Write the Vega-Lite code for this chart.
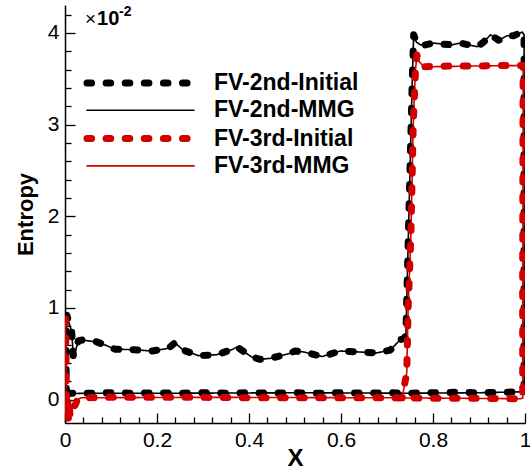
{
  "$schema": "https://vega.github.io/schema/vega-lite/v6.json",
  "autosize": "none",
  "width": 460,
  "height": 418,
  "padding": {"left": 65, "top": 5, "right": 5, "bottom": 49},
  "background": "white",
  "config": {
    "view": {"stroke": null},
    "font": "Liberation Sans",
    "axis": {
      "grid": false,
      "domainColor": "black",
      "domainWidth": 1.5,
      "tickColor": "black",
      "tickWidth": 1.3,
      "labelColor": "black",
      "labelFont": "Liberation Sans",
      "labelFontSize": 21,
      "titleFont": "Liberation Sans",
      "titleFontWeight": "bold",
      "titleColor": "black"
    }
  },
  "datasets": {
    "curves": [
      {"s": "FV-2nd-Initial", "x": 0.003, "y": 0.07},
      {"s": "FV-2nd-Initial", "x": 0.002, "y": 0.5},
      {"s": "FV-2nd-Initial", "x": 0.004, "y": 0.92},
      {"s": "FV-2nd-Initial", "x": 0.0145, "y": 0.74},
      {"s": "FV-2nd-Initial", "x": 0.018, "y": 0.48},
      {"s": "FV-2nd-Initial", "x": 0.022, "y": 0.52},
      {"s": "FV-2nd-Initial", "x": 0.029, "y": 0.64},
      {"s": "FV-2nd-Initial", "x": 0.036, "y": 0.65},
      {"s": "FV-2nd-Initial", "x": 0.069, "y": 0.63},
      {"s": "FV-2nd-Initial", "x": 0.09, "y": 0.59},
      {"s": "FV-2nd-Initial", "x": 0.109, "y": 0.55},
      {"s": "FV-2nd-Initial", "x": 0.149, "y": 0.545},
      {"s": "FV-2nd-Initial", "x": 0.189, "y": 0.53},
      {"s": "FV-2nd-Initial", "x": 0.225, "y": 0.56},
      {"s": "FV-2nd-Initial", "x": 0.239, "y": 0.62},
      {"s": "FV-2nd-Initial", "x": 0.257, "y": 0.54},
      {"s": "FV-2nd-Initial", "x": 0.29, "y": 0.48},
      {"s": "FV-2nd-Initial", "x": 0.33, "y": 0.49},
      {"s": "FV-2nd-Initial", "x": 0.365, "y": 0.55},
      {"s": "FV-2nd-Initial", "x": 0.374, "y": 0.575},
      {"s": "FV-2nd-Initial", "x": 0.406, "y": 0.465},
      {"s": "FV-2nd-Initial", "x": 0.424, "y": 0.44},
      {"s": "FV-2nd-Initial", "x": 0.446, "y": 0.45},
      {"s": "FV-2nd-Initial", "x": 0.486, "y": 0.5},
      {"s": "FV-2nd-Initial", "x": 0.5, "y": 0.53},
      {"s": "FV-2nd-Initial", "x": 0.519, "y": 0.52},
      {"s": "FV-2nd-Initial", "x": 0.559, "y": 0.47},
      {"s": "FV-2nd-Initial", "x": 0.598, "y": 0.53},
      {"s": "FV-2nd-Initial", "x": 0.638, "y": 0.52},
      {"s": "FV-2nd-Initial", "x": 0.678, "y": 0.51},
      {"s": "FV-2nd-Initial", "x": 0.707, "y": 0.54},
      {"s": "FV-2nd-Initial", "x": 0.729, "y": 0.655},
      {"s": "FV-2nd-Initial", "x": 0.736, "y": 0.665},
      {"s": "FV-2nd-Initial", "x": 0.741, "y": 0.7},
      {"s": "FV-2nd-Initial", "x": 0.745, "y": 1.5},
      {"s": "FV-2nd-Initial", "x": 0.75, "y": 2.5},
      {"s": "FV-2nd-Initial", "x": 0.755, "y": 3.5},
      {"s": "FV-2nd-Initial", "x": 0.758, "y": 3.98},
      {"s": "FV-2nd-Initial", "x": 0.764, "y": 3.9},
      {"s": "FV-2nd-Initial", "x": 0.773, "y": 3.87},
      {"s": "FV-2nd-Initial", "x": 0.783, "y": 3.87},
      {"s": "FV-2nd-Initial", "x": 0.8, "y": 3.89},
      {"s": "FV-2nd-Initial", "x": 0.82, "y": 3.88},
      {"s": "FV-2nd-Initial", "x": 0.84, "y": 3.87},
      {"s": "FV-2nd-Initial", "x": 0.86, "y": 3.89},
      {"s": "FV-2nd-Initial", "x": 0.878, "y": 3.87},
      {"s": "FV-2nd-Initial", "x": 0.896, "y": 3.85},
      {"s": "FV-2nd-Initial", "x": 0.91, "y": 3.9},
      {"s": "FV-2nd-Initial", "x": 0.925, "y": 3.98},
      {"s": "FV-2nd-Initial", "x": 0.943, "y": 3.92},
      {"s": "FV-2nd-Initial", "x": 0.961, "y": 3.97},
      {"s": "FV-2nd-Initial", "x": 0.975, "y": 3.97},
      {"s": "FV-2nd-Initial", "x": 0.994, "y": 4.01},
      {"s": "FV-2nd-Initial", "x": 0.998, "y": 3.98},
      {"s": "FV-2nd-Initial", "x": 0.998, "y": 2.0},
      {"s": "FV-2nd-Initial", "x": 0.998, "y": 0.1},
      {"s": "FV-2nd-Initial", "x": 0.99, "y": 0.085},
      {"s": "FV-2nd-Initial", "x": 0.95, "y": 0.08},
      {"s": "FV-2nd-Initial", "x": 0.9, "y": 0.075},
      {"s": "FV-2nd-Initial", "x": 0.85, "y": 0.08},
      {"s": "FV-2nd-Initial", "x": 0.8, "y": 0.075},
      {"s": "FV-2nd-Initial", "x": 0.75, "y": 0.07},
      {"s": "FV-2nd-Initial", "x": 0.7, "y": 0.075},
      {"s": "FV-2nd-Initial", "x": 0.65, "y": 0.07},
      {"s": "FV-2nd-Initial", "x": 0.6, "y": 0.075},
      {"s": "FV-2nd-Initial", "x": 0.55, "y": 0.07},
      {"s": "FV-2nd-Initial", "x": 0.5, "y": 0.075},
      {"s": "FV-2nd-Initial", "x": 0.45, "y": 0.07},
      {"s": "FV-2nd-Initial", "x": 0.4, "y": 0.075},
      {"s": "FV-2nd-Initial", "x": 0.35, "y": 0.07},
      {"s": "FV-2nd-Initial", "x": 0.3, "y": 0.075},
      {"s": "FV-2nd-Initial", "x": 0.25, "y": 0.07},
      {"s": "FV-2nd-Initial", "x": 0.2, "y": 0.075},
      {"s": "FV-2nd-Initial", "x": 0.15, "y": 0.07},
      {"s": "FV-2nd-Initial", "x": 0.1, "y": 0.075},
      {"s": "FV-2nd-Initial", "x": 0.05, "y": 0.07},
      {"s": "FV-2nd-Initial", "x": 0.02, "y": 0.07},
      {"s": "FV-2nd-Initial", "x": 0.005, "y": 0.065},

      {"s": "FV-2nd-MMG", "x": 0.003, "y": 0.07},
      {"s": "FV-2nd-MMG", "x": 0.002, "y": 0.5},
      {"s": "FV-2nd-MMG", "x": 0.004, "y": 0.92},
      {"s": "FV-2nd-MMG", "x": 0.0145, "y": 0.74},
      {"s": "FV-2nd-MMG", "x": 0.018, "y": 0.48},
      {"s": "FV-2nd-MMG", "x": 0.022, "y": 0.52},
      {"s": "FV-2nd-MMG", "x": 0.029, "y": 0.64},
      {"s": "FV-2nd-MMG", "x": 0.036, "y": 0.65},
      {"s": "FV-2nd-MMG", "x": 0.069, "y": 0.63},
      {"s": "FV-2nd-MMG", "x": 0.09, "y": 0.59},
      {"s": "FV-2nd-MMG", "x": 0.109, "y": 0.55},
      {"s": "FV-2nd-MMG", "x": 0.149, "y": 0.545},
      {"s": "FV-2nd-MMG", "x": 0.189, "y": 0.53},
      {"s": "FV-2nd-MMG", "x": 0.225, "y": 0.56},
      {"s": "FV-2nd-MMG", "x": 0.239, "y": 0.62},
      {"s": "FV-2nd-MMG", "x": 0.257, "y": 0.54},
      {"s": "FV-2nd-MMG", "x": 0.29, "y": 0.48},
      {"s": "FV-2nd-MMG", "x": 0.33, "y": 0.49},
      {"s": "FV-2nd-MMG", "x": 0.365, "y": 0.55},
      {"s": "FV-2nd-MMG", "x": 0.374, "y": 0.575},
      {"s": "FV-2nd-MMG", "x": 0.406, "y": 0.465},
      {"s": "FV-2nd-MMG", "x": 0.424, "y": 0.44},
      {"s": "FV-2nd-MMG", "x": 0.446, "y": 0.45},
      {"s": "FV-2nd-MMG", "x": 0.486, "y": 0.5},
      {"s": "FV-2nd-MMG", "x": 0.5, "y": 0.53},
      {"s": "FV-2nd-MMG", "x": 0.519, "y": 0.52},
      {"s": "FV-2nd-MMG", "x": 0.559, "y": 0.47},
      {"s": "FV-2nd-MMG", "x": 0.598, "y": 0.53},
      {"s": "FV-2nd-MMG", "x": 0.638, "y": 0.52},
      {"s": "FV-2nd-MMG", "x": 0.678, "y": 0.51},
      {"s": "FV-2nd-MMG", "x": 0.707, "y": 0.54},
      {"s": "FV-2nd-MMG", "x": 0.729, "y": 0.655},
      {"s": "FV-2nd-MMG", "x": 0.736, "y": 0.665},
      {"s": "FV-2nd-MMG", "x": 0.741, "y": 0.7},
      {"s": "FV-2nd-MMG", "x": 0.745, "y": 1.5},
      {"s": "FV-2nd-MMG", "x": 0.75, "y": 2.5},
      {"s": "FV-2nd-MMG", "x": 0.755, "y": 3.5},
      {"s": "FV-2nd-MMG", "x": 0.758, "y": 3.98},
      {"s": "FV-2nd-MMG", "x": 0.764, "y": 3.9},
      {"s": "FV-2nd-MMG", "x": 0.773, "y": 3.87},
      {"s": "FV-2nd-MMG", "x": 0.783, "y": 3.87},
      {"s": "FV-2nd-MMG", "x": 0.8, "y": 3.89},
      {"s": "FV-2nd-MMG", "x": 0.82, "y": 3.88},
      {"s": "FV-2nd-MMG", "x": 0.84, "y": 3.87},
      {"s": "FV-2nd-MMG", "x": 0.86, "y": 3.89},
      {"s": "FV-2nd-MMG", "x": 0.878, "y": 3.87},
      {"s": "FV-2nd-MMG", "x": 0.896, "y": 3.85},
      {"s": "FV-2nd-MMG", "x": 0.91, "y": 3.9},
      {"s": "FV-2nd-MMG", "x": 0.925, "y": 3.98},
      {"s": "FV-2nd-MMG", "x": 0.943, "y": 3.92},
      {"s": "FV-2nd-MMG", "x": 0.961, "y": 3.97},
      {"s": "FV-2nd-MMG", "x": 0.975, "y": 3.97},
      {"s": "FV-2nd-MMG", "x": 0.994, "y": 4.01},
      {"s": "FV-2nd-MMG", "x": 0.998, "y": 3.98},
      {"s": "FV-2nd-MMG", "x": 0.998, "y": 2.0},
      {"s": "FV-2nd-MMG", "x": 0.998, "y": 0.1},
      {"s": "FV-2nd-MMG", "x": 0.99, "y": 0.085},
      {"s": "FV-2nd-MMG", "x": 0.9, "y": 0.075},
      {"s": "FV-2nd-MMG", "x": 0.75, "y": 0.07},
      {"s": "FV-2nd-MMG", "x": 0.5, "y": 0.075},
      {"s": "FV-2nd-MMG", "x": 0.25, "y": 0.07},
      {"s": "FV-2nd-MMG", "x": 0.05, "y": 0.07},
      {"s": "FV-2nd-MMG", "x": 0.005, "y": 0.065},

      {"s": "FV-3rd-Initial", "x": 0.001, "y": 0.88},
      {"s": "FV-3rd-Initial", "x": 0.002, "y": 0.5},
      {"s": "FV-3rd-Initial", "x": 0.003, "y": 0.1},
      {"s": "FV-3rd-Initial", "x": 0.004, "y": -0.15},
      {"s": "FV-3rd-Initial", "x": 0.006, "y": 0.02},
      {"s": "FV-3rd-Initial", "x": 0.007, "y": -0.22},
      {"s": "FV-3rd-Initial", "x": 0.009, "y": -0.05},
      {"s": "FV-3rd-Initial", "x": 0.011, "y": -0.18},
      {"s": "FV-3rd-Initial", "x": 0.014, "y": -0.1},
      {"s": "FV-3rd-Initial", "x": 0.018, "y": -0.09},
      {"s": "FV-3rd-Initial", "x": 0.022, "y": -0.06},
      {"s": "FV-3rd-Initial", "x": 0.027, "y": 0.0},
      {"s": "FV-3rd-Initial", "x": 0.035, "y": 0.02},
      {"s": "FV-3rd-Initial", "x": 0.1, "y": 0.025},
      {"s": "FV-3rd-Initial", "x": 0.2, "y": 0.025},
      {"s": "FV-3rd-Initial", "x": 0.3, "y": 0.025},
      {"s": "FV-3rd-Initial", "x": 0.4, "y": 0.02},
      {"s": "FV-3rd-Initial", "x": 0.5, "y": 0.02},
      {"s": "FV-3rd-Initial", "x": 0.6, "y": 0.02},
      {"s": "FV-3rd-Initial", "x": 0.7, "y": 0.02},
      {"s": "FV-3rd-Initial", "x": 0.8, "y": 0.015},
      {"s": "FV-3rd-Initial", "x": 0.9, "y": 0.015},
      {"s": "FV-3rd-Initial", "x": 0.99, "y": 0.01},
      {"s": "FV-3rd-Initial", "x": 0.995, "y": 0.015},
      {"s": "FV-3rd-Initial", "x": 0.995, "y": 1.5},
      {"s": "FV-3rd-Initial", "x": 0.996, "y": 3.645},
      {"s": "FV-3rd-Initial", "x": 0.95, "y": 3.645},
      {"s": "FV-3rd-Initial", "x": 0.9, "y": 3.64},
      {"s": "FV-3rd-Initial", "x": 0.85, "y": 3.64},
      {"s": "FV-3rd-Initial", "x": 0.8, "y": 3.635},
      {"s": "FV-3rd-Initial", "x": 0.78, "y": 3.63},
      {"s": "FV-3rd-Initial", "x": 0.768, "y": 3.7},
      {"s": "FV-3rd-Initial", "x": 0.765, "y": 3.76},
      {"s": "FV-3rd-Initial", "x": 0.762, "y": 3.6},
      {"s": "FV-3rd-Initial", "x": 0.757, "y": 3.0},
      {"s": "FV-3rd-Initial", "x": 0.752, "y": 1.8},
      {"s": "FV-3rd-Initial", "x": 0.746, "y": 1.0},
      {"s": "FV-3rd-Initial", "x": 0.743, "y": 0.3},
      {"s": "FV-3rd-Initial", "x": 0.733, "y": 0.02},

      {"s": "FV-3rd-MMG", "x": 0.001, "y": 0.88},
      {"s": "FV-3rd-MMG", "x": 0.002, "y": 0.5},
      {"s": "FV-3rd-MMG", "x": 0.003, "y": 0.1},
      {"s": "FV-3rd-MMG", "x": 0.004, "y": -0.15},
      {"s": "FV-3rd-MMG", "x": 0.006, "y": 0.02},
      {"s": "FV-3rd-MMG", "x": 0.007, "y": -0.22},
      {"s": "FV-3rd-MMG", "x": 0.009, "y": -0.05},
      {"s": "FV-3rd-MMG", "x": 0.011, "y": -0.18},
      {"s": "FV-3rd-MMG", "x": 0.014, "y": -0.1},
      {"s": "FV-3rd-MMG", "x": 0.018, "y": -0.09},
      {"s": "FV-3rd-MMG", "x": 0.022, "y": -0.06},
      {"s": "FV-3rd-MMG", "x": 0.027, "y": 0.0},
      {"s": "FV-3rd-MMG", "x": 0.035, "y": 0.02},
      {"s": "FV-3rd-MMG", "x": 0.3, "y": 0.025},
      {"s": "FV-3rd-MMG", "x": 0.7, "y": 0.02},
      {"s": "FV-3rd-MMG", "x": 0.99, "y": 0.01},
      {"s": "FV-3rd-MMG", "x": 0.995, "y": 0.015},
      {"s": "FV-3rd-MMG", "x": 0.996, "y": 3.645},
      {"s": "FV-3rd-MMG", "x": 0.9, "y": 3.64},
      {"s": "FV-3rd-MMG", "x": 0.78, "y": 3.63},
      {"s": "FV-3rd-MMG", "x": 0.768, "y": 3.7},
      {"s": "FV-3rd-MMG", "x": 0.765, "y": 3.76},
      {"s": "FV-3rd-MMG", "x": 0.762, "y": 3.6},
      {"s": "FV-3rd-MMG", "x": 0.757, "y": 3.0},
      {"s": "FV-3rd-MMG", "x": 0.752, "y": 1.8},
      {"s": "FV-3rd-MMG", "x": 0.746, "y": 1.0},
      {"s": "FV-3rd-MMG", "x": 0.743, "y": 0.3},
      {"s": "FV-3rd-MMG", "x": 0.733, "y": 0.02}
    ]
  },
  "layer": [
    {
      "data": {"name": "curves"},
      "mark": {"type": "line", "strokeCap": "round", "strokeJoin": "round", "clip": true},
      "encoding": {
        "x": {
          "field": "x", "type": "quantitative",
          "scale": {"domain": [0, 1], "nice": false, "zero": false},
          "axis": {
            "title": "X",
            "titleFontSize": 24,
            "values": [0, 0.04, 0.08, 0.12, 0.16, 0.2, 0.24, 0.28, 0.32, 0.36, 0.4, 0.44, 0.48, 0.52, 0.56, 0.6, 0.64, 0.68, 0.72, 0.76, 0.8, 0.84, 0.88, 0.92, 0.96, 1],
            "tickCount": 200,
            "format": "~g",
            "labelExpr": "abs(datum.value*5 - round(datum.value*5)) < 1e-6 ? datum.label : ''",
            "tickSize": {"condition": {"test": "abs(datum.value*5 - round(datum.value*5)) < 1e-6", "value": -10}, "value": -6},
            "labelPadding": 16,
            "labelFlush": false,
            "labelOverlap": false,
            "titleX": 230,
            "titleY": 42,
            "titleBaseline": "alphabetic",
            "titleAlign": "center"
          }
        },
        "y": {
          "field": "y", "type": "quantitative",
          "scale": {"domain": [-0.255, 4.305], "nice": false, "zero": false},
          "axis": {
            "title": "Entropy",
            "titleFontSize": 22,
            "values": [-0.2, 0, 0.2, 0.4, 0.6, 0.8, 1, 1.2, 1.4, 1.6, 1.8, 2, 2.2, 2.4, 2.6, 2.8, 3, 3.2, 3.4, 3.6, 3.8, 4, 4.2],
            "tickCount": 200,
            "format": "~g",
            "labelExpr": "abs(datum.value - round(datum.value)) < 1e-6 ? datum.label : ''",
            "tickSize": {"condition": {"test": "abs(datum.value - round(datum.value)) < 1e-6", "value": -10}, "value": -6},
            "labelPadding": 16,
            "labelFlush": false,
            "labelOverlap": false,
            "titleAngle": 270,
            "titleX": -33,
            "titleY": 209,
            "titleAlign": "center",
            "titleBaseline": "alphabetic"
          }
        },
        "color": {
          "field": "s", "type": "nominal",
          "scale": {"domain": ["FV-2nd-Initial", "FV-2nd-MMG", "FV-3rd-Initial", "FV-3rd-MMG"], "range": ["#000000", "#000000", "#d40000", "#d40000"]},
          "legend": {
            "title": null,
            "orient": "none",
            "legendX": 64,
            "legendY": 66.5,
            "symbolType": "M-10,0H10",
            "symbolSize": 114.5,
            "labelFont": "Liberation Sans",
            "labelFontWeight": "bold",
            "labelFontSize": 23,
            "labelColor": "black",
            "labelOffset": 62,
            "rowPadding": 1.3,
            "padding": 0,
            "encode": {"symbols": {"update": {"strokeCap": {"value": "round"}}}}
          }
        },
        "strokeDash": {
          "field": "s", "type": "nominal",
          "scale": {"domain": ["FV-2nd-Initial", "FV-2nd-MMG", "FV-3rd-Initial", "FV-3rd-MMG"], "range": [[4.6, 14.5], [1, 0], [4.6, 14.5], [1, 0]]}
        },
        "strokeWidth": {
          "field": "s", "type": "nominal",
          "scale": {"type": "ordinal", "domain": ["FV-2nd-Initial", "FV-2nd-MMG", "FV-3rd-Initial", "FV-3rd-MMG"], "range": [7, 1.6, 7, 1.6]}
        },
        "order": {"value": null}
      }
    },
    {
      "data": {"values": [{}]},
      "mark": {"type": "text", "text": "×", "font": "Liberation Sans", "fontSize": 19, "align": "left", "baseline": "alphabetic", "color": "black"},
      "encoding": {"x": {"datum": 0.0435}, "y": {"datum": 4.09}}
    },
    {
      "data": {"values": [{}]},
      "mark": {"type": "text", "text": "10", "font": "Liberation Sans", "fontWeight": "bold", "fontSize": 20, "align": "left", "baseline": "alphabetic", "color": "black", "dx": 12},
      "encoding": {"x": {"datum": 0.0435}, "y": {"datum": 4.09}}
    },
    {
      "data": {"values": [{}]},
      "mark": {"type": "text", "text": "-2", "font": "Liberation Sans", "fontWeight": "bold", "fontSize": 14, "align": "left", "baseline": "alphabetic", "color": "black", "dx": 34, "dy": -9},
      "encoding": {"x": {"datum": 0.0435}, "y": {"datum": 4.09}}
    }
  ]
}
